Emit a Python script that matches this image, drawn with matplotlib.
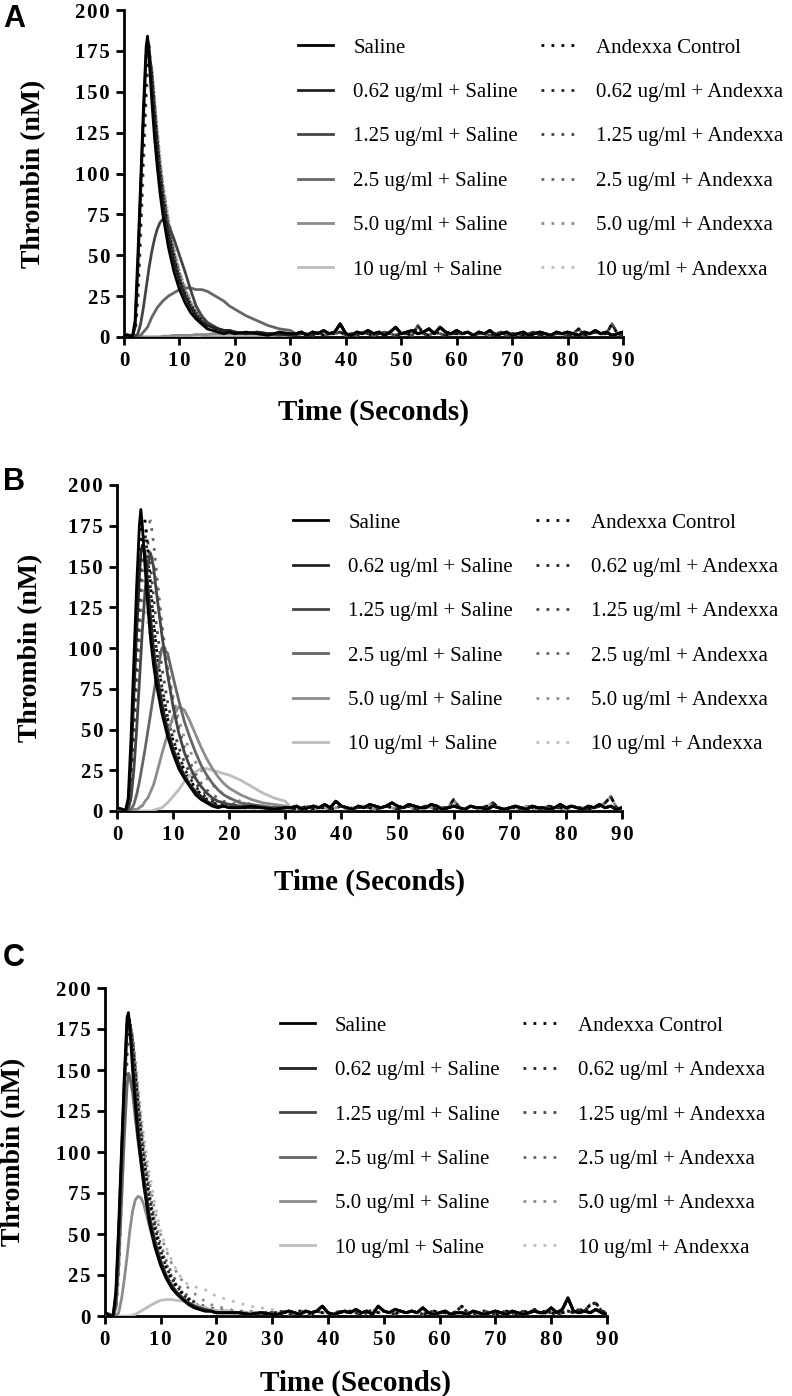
import numpy as np
import matplotlib
matplotlib.use("Agg")
import matplotlib.pyplot as plt
from matplotlib.ticker import FuncFormatter

plt.rcParams['font.family'] = ['Liberation Serif', 'DejaVu Serif']

# sample times (s): dense early part, then one reading per second for the tail
t_early = [0, 1, 1.5, 2, 2.5, 3, 3.5, 4, 4.25, 4.5, 5, 5.5, 6, 6.5, 7, 8, 9, 10,
           11, 12, 13, 14, 15, 16, 17, 18, 19, 20, 22, 24, 26, 28, 30]
t_tail = list(range(31, 91))

labels_saline = ["Saline", "0.62 ug/ml + Saline", "1.25 ug/ml + Saline",
                 "2.5 ug/ml + Saline", "5.0 ug/ml + Saline", "10 ug/ml + Saline"]
labels_andexxa = ["Andexxa Control", "0.62 ug/ml + Andexxa", "1.25 ug/ml + Andexxa",
                  "2.5 ug/ml + Andexxa", "5.0 ug/ml + Andexxa", "10 ug/ml + Andexxa"]
shades = ["#000000", "#222222", "#444444", "#666666", "#8c8c8c", "#bdbdbd"]

# ---------------- panel A ----------------
A_saline = [
    [1, 1, 0, 10, 50, 95, 140, 178, 184, 172, 145, 122, 104, 88, 75, 55, 40, 29, 21, 15, 11, 8, 5, 4, 3, 2, 3, 2, 3, 2, 1, 3, 2],
    [2, 1, 0, 6, 42, 88, 133, 172, 182, 178, 155, 132, 112, 96, 82, 62, 46, 34, 25, 18, 13, 9, 7, 6, 5, 4, 4, 3, 2, 3, 2, 2, 1],
    [1, 1, 0, 0, 2, 8, 18, 30, 36, 42, 52, 60, 66, 70, 72, 69, 60, 50, 40, 29, 19, 13, 9, 7, 5, 4, 4, 3, 2, 3, 2, 1, 2],
    [1, 1, 0, 0, 0, 1, 3, 5, 6, 8, 12, 15, 18, 20, 22, 25, 27, 29, 30, 30, 29, 29, 28, 26, 24, 22, 19, 17, 13, 10, 7, 5, 4],
    [0, 0, 0, 0, 0, 0, 0, 0, 0, 0, 0, 0, 0, 0, 0.5, 0.5, 1, 1, 1, 1, 1.5, 1.5, 1.5, 2, 2, 2, 2, 2, 2, 2, 2, 2, 2],
    [0, 0, 0, 0, 0, 0, 0, 0, 0, 0, 0, 0, 0, 0, 0, 0, 0.5, 0.5, 0.5, 0.5, 0.5, 1, 1, 1, 1, 1, 1, 1, 1, 1, 1, 1, 1],
]
A_andexxa = [
    [1, 1, 0, 5, 35, 80, 125, 165, 175, 178, 160, 138, 118, 100, 86, 64, 48, 35, 26, 19, 14, 10, 7, 5, 4, 3, 3, 2, 2, 2, 2, 1, 2],
    [1, 1, 0, 4, 32, 76, 120, 160, 172, 176, 162, 140, 120, 102, 88, 66, 49, 36, 27, 20, 14, 10, 8, 6, 4, 3, 3, 2, 2, 2, 2, 1, 2],
    [1, 1, 0, 3, 28, 70, 115, 155, 168, 174, 163, 142, 122, 104, 90, 68, 51, 38, 28, 20, 15, 11, 8, 6, 4, 3, 3, 2, 2, 2, 2, 1, 2],
    [1, 1, 0, 3, 25, 66, 110, 150, 165, 172, 164, 144, 124, 106, 92, 70, 52, 39, 29, 21, 15, 11, 8, 6, 5, 4, 3, 3, 2, 2, 2, 1, 2],
    [1, 1, 0, 2, 22, 62, 105, 146, 162, 170, 165, 146, 126, 108, 94, 72, 54, 40, 30, 22, 16, 12, 9, 7, 5, 4, 3, 3, 2, 2, 2, 1, 2],
    [1, 1, 0, 2, 20, 58, 100, 142, 158, 168, 165, 148, 128, 110, 96, 74, 55, 41, 31, 23, 17, 12, 9, 7, 5, 4, 3, 3, 2, 2, 2, 1, 2],
]
A_tail_solid = [2, 3, 1, 3, 2, 4, 2, 3, 8, 2, 1, 3, 2, 4, 2, 3, 1, 3, 6, 2,
                3, 4, 2, 3, 5, 2, 6, 3, 2, 4, 2, 3, 1, 3, 2, 4, 1, 2, 3, 1,
                2, 3, 1, 2, 3, 2, 1, 3, 2, 3, 2, 1, 3, 2, 4, 2, 3, 1, 2, 3]
A_tail_dot = [1, 2, 2, 1, 3, 1, 2, 2, 3, 1, 2, 1, 3, 2, 1, 2, 3, 2, 1, 2,
              2, 1, 7, 2, 1, 3, 2, 1, 2, 2, 2, 3, 1, 2, 2, 1, 2, 3, 1, 2,
              2, 1, 2, 3, 1, 2, 1, 2, 2, 1, 2, 5, 1, 2, 3, 2, 2, 8, 2, 1]

# ---------------- panel B ----------------
B_saline = [
    [2, 1, 0, 8, 45, 92, 138, 176, 185, 176, 150, 125, 105, 90, 78, 60, 46, 35, 26, 20, 15, 10, 7, 5, 3, 2, 3, 2, 2, 3, 2, 1, 2],
    [2, 1, 0, 4, 30, 70, 110, 145, 158, 163, 158, 138, 118, 100, 86, 66, 50, 38, 29, 22, 16, 12, 9, 6, 4, 3, 3, 2, 2, 2, 2, 1, 2],
    [1, 1, 0, 1, 8, 25, 50, 80, 95, 110, 135, 152, 158, 150, 135, 108, 84, 64, 48, 36, 27, 20, 15, 11, 8, 6, 5, 4, 3, 3, 2, 2, 2],
    [1, 1, 0, 0, 1, 4, 10, 18, 23, 28, 38, 49, 60, 71, 82, 100, 97, 82, 68, 55, 45, 36, 28, 22, 17, 13, 10, 8, 5, 4, 3, 2, 2],
    [1, 1, 0, 0, 0, 1, 1, 2, 3, 3, 6, 8, 12, 16, 22, 35, 47, 58, 64, 62, 55, 47, 39, 32, 26, 21, 17, 14, 10, 7, 5, 4, 3],
    [0, 0, 0, 0, 0, 0, 0, 0, 0, 0, 0, 0, 0, 0.5, 1, 2, 5, 9, 13, 18, 22, 24, 26, 26, 25, 24, 23, 22, 19, 15, 11, 8, 6],
]
B_andexxa = [
    [2, 1, 0, 4, 30, 72, 115, 155, 170, 176, 178, 160, 138, 118, 100, 75, 57, 43, 33, 25, 19, 14, 10, 7, 5, 4, 3, 3, 2, 2, 2, 2, 2],
    [2, 1, 0, 3, 25, 62, 105, 145, 160, 168, 170, 155, 135, 116, 100, 76, 58, 44, 34, 26, 20, 15, 11, 8, 6, 5, 4, 3, 3, 2, 2, 2, 2],
    [1, 1, 0, 2, 18, 50, 90, 130, 145, 155, 162, 165, 150, 132, 115, 88, 67, 51, 39, 30, 23, 17, 13, 10, 7, 6, 5, 4, 3, 3, 2, 2, 2],
    [1, 1, 0, 1, 10, 35, 70, 110, 130, 148, 168, 176, 178, 165, 148, 115, 88, 67, 51, 39, 30, 23, 17, 13, 10, 8, 6, 5, 4, 3, 3, 2, 2],
    [1, 1, 0, 1, 8, 30, 62, 100, 118, 135, 150, 158, 160, 152, 140, 110, 88, 70, 56, 45, 37, 30, 25, 20, 16, 13, 10, 8, 6, 4, 3, 2, 2],
    [1, 1, 0, 2, 15, 45, 80, 110, 120, 125, 124, 115, 104, 92, 82, 64, 50, 39, 30, 23, 18, 14, 11, 8, 6, 5, 4, 3, 3, 2, 2, 2, 2],
]
B_tail_solid = [2, 3, 1, 2, 3, 2, 4, 2, 6, 3, 2, 1, 3, 2, 4, 3, 2, 3, 5, 3,
                2, 4, 3, 2, 2, 4, 3, 1, 2, 3, 2, 1, 3, 2, 2, 1, 3, 2, 1, 2,
                3, 2, 1, 3, 2, 2, 1, 2, 4, 2, 3, 2, 1, 3, 2, 4, 2, 3, 1, 2]
B_tail_dot = [2, 1, 2, 3, 1, 2, 2, 1, 2, 3, 1, 2, 2, 3, 2, 1, 2, 3, 2, 1,
              2, 3, 1, 2, 3, 2, 1, 2, 2, 7, 2, 1, 3, 2, 2, 3, 5, 2, 1, 2,
              2, 1, 3, 2, 1, 2, 3, 2, 2, 1, 3, 2, 2, 1, 2, 3, 5, 9, 2, 1]

# ---------------- panel C ----------------
C_saline = [
    [2, 0, 0, 15, 55, 100, 145, 182, 185, 176, 150, 128, 108, 94, 80, 57, 42, 31, 23, 17, 13, 10, 7, 5, 4, 3, 3, 2, 2, 2, 1, 2, 1],
    [2, 0, 0, 12, 50, 96, 142, 178, 183, 178, 155, 132, 112, 97, 83, 60, 44, 33, 24, 18, 14, 10, 8, 6, 4, 3, 3, 2, 2, 2, 1, 2, 1],
    [2, 1, 0, 10, 45, 90, 136, 172, 180, 178, 158, 135, 115, 99, 85, 62, 46, 34, 25, 19, 14, 11, 8, 6, 5, 4, 3, 2, 2, 2, 1, 2, 1],
    [1, 0, 0, 5, 30, 68, 108, 140, 148, 146, 136, 120, 106, 93, 80, 58, 43, 32, 24, 18, 14, 11, 8, 6, 5, 4, 3, 2, 2, 2, 1, 2, 1],
    [1, 0, 0, 0, 2, 10, 22, 36, 44, 52, 64, 71, 73, 72, 68, 55, 42, 32, 24, 18, 14, 11, 8, 6, 5, 4, 3, 2, 2, 2, 1, 2, 1],
    [0, 0, 0, 0, 0, 0, 0, 0, 0, 0, 0.5, 1, 2, 3, 4, 6, 8, 9.5, 10, 10, 9.5, 9, 8, 7, 6, 5, 4, 3, 3, 2, 2, 2, 1],
]
C_andexxa = [
    [2, 0, 0, 8, 40, 88, 135, 172, 182, 180, 165, 145, 125, 108, 94, 70, 52, 39, 29, 22, 17, 13, 10, 7, 5, 4, 3, 3, 2, 2, 2, 2, 2],
    [2, 0, 0, 6, 36, 84, 130, 168, 180, 180, 167, 148, 128, 111, 96, 72, 54, 40, 30, 23, 18, 13, 10, 8, 6, 5, 4, 3, 3, 2, 2, 2, 2],
    [2, 0, 0, 5, 33, 80, 126, 165, 178, 179, 168, 150, 130, 113, 98, 74, 56, 42, 32, 24, 18, 14, 11, 8, 6, 5, 4, 3, 3, 2, 2, 2, 2],
    [1, 0, 0, 4, 30, 76, 122, 162, 176, 178, 170, 152, 133, 116, 101, 77, 58, 44, 34, 26, 20, 15, 12, 9, 7, 6, 5, 4, 3, 3, 2, 2, 2],
    [1, 0, 0, 3, 27, 72, 118, 158, 173, 177, 170, 154, 136, 120, 105, 82, 64, 50, 40, 32, 26, 21, 17, 14, 11, 9, 7, 6, 4, 3, 3, 2, 2],
    [1, 0, 0, 2, 24, 68, 112, 152, 168, 175, 172, 158, 140, 124, 110, 88, 68, 52, 42, 34, 27, 22, 19, 18, 17, 16, 14, 12, 10, 8, 6, 5, 4],
]
C_tail_solid = [1, 2, 3, 2, 1, 3, 2, 3, 6, 2, 1, 2, 3, 2, 4, 2, 3, 1, 6, 3,
                2, 4, 3, 2, 3, 2, 5, 2, 1, 2, 3, 1, 2, 2, 1, 3, 2, 1, 2, 3,
                2, 1, 3, 2, 1, 2, 3, 2, 2, 5, 2, 4, 11, 3, 2, 3, 2, 4, 2, 1]
C_tail_dot = [2, 3, 1, 2, 3, 2, 1, 3, 2, 2, 1, 3, 2, 3, 2, 1, 2, 4, 2, 3,
              2, 1, 3, 2, 3, 2, 1, 2, 3, 2, 2, 1, 3, 6, 2, 1, 2, 3, 2, 1,
              2, 3, 2, 1, 3, 2, 4, 2, 3, 2, 1, 2, 3, 2, 4, 3, 7, 8, 3, 2]

panels = [
    # letter, saline, andexxa, tails, axes box (px), ylabel x, xlabel y, letter y (px)
    ("A", A_saline, A_andexxa, A_tail_solid, A_tail_dot, [124, 10, 623, 337], -0.156, -0.190, 19),
    ("B", B_saline, B_andexxa, B_tail_solid, B_tail_dot, [117, 485, 622, 811], -0.147, -0.178, 482),
    ("C", C_saline, C_andexxa, C_tail_solid, C_tail_dot, [104.7, 988, 607, 1316], -0.157, -0.165, 958),
]

W, H = 792, 1396
fig = plt.figure(figsize=(W / 100, H / 100), dpi=100)

t_all = np.array(t_early + t_tail, dtype=float)
dot_style = (0, (1, 2.6))
# GraphPad-style letter-spaced tick numbers
spaced = FuncFormatter(lambda v, pos: "\u200a".join(str(int(v))))

for letter, sal, andx, tail_s, tail_d, box, ylx, xly, lety in panels:
    x0, y0, x1, y1 = box
    ax = fig.add_axes([x0 / W, 1 - y1 / H, (x1 - x0) / W, (y1 - y0) / H])

    handles_s, handles_d = [], []
    # dotted Andexxa traces underneath, light first
    for i in range(5, -1, -1):
        y = np.array(andx[i] + tail_d, dtype=float)
        ln, = ax.plot(t_all, y, color=shades[i], lw=2.0, linestyle=dot_style,
                      label=labels_andexxa[i], zorder=2)
        handles_d.insert(0, ln)
    for i in range(5, -1, -1):
        y = np.array(sal[i] + tail_s, dtype=float)
        ln, = ax.plot(t_all, y, color=shades[i], lw=2.0, label=labels_saline[i],
                      zorder=3, solid_joinstyle='round')
        handles_s.insert(0, ln)

    ax.set_xlim(0, 90)
    ax.set_ylim(0, 200)
    ax.set_xticks(range(0, 91, 10))
    ax.set_yticks(range(0, 201, 25))
    ax.xaxis.set_major_formatter(spaced)
    ax.yaxis.set_major_formatter(spaced)
    for s in ["top", "right"]:
        ax.spines[s].set_visible(False)
    for s in ["left", "bottom"]:
        ax.spines[s].set_linewidth(2.0)
        ax.spines[s].set_zorder(1)
    ax.tick_params(direction="out", length=6, width=2.0, labelsize=15, pad=4)
    for lab in ax.get_xticklabels() + ax.get_yticklabels():
        lab.set_fontweight("bold")

    ax.set_ylabel("Thrombin (nM)", fontsize=20, fontweight="bold")
    ax.yaxis.set_label_coords(ylx, 0.5)
    ax.set_xlabel("Time (Seconds)", fontsize=21, fontweight="bold")
    ax.xaxis.set_label_coords(0.5, xly)

    ax.legend(handles_s + handles_d, labels_saline + labels_andexxa, ncol=2,
              loc="upper left", bbox_to_anchor=(0.349, 0.914), frameon=False,
              fontsize=15, handlelength=1.68, handletextpad=0.96,
              columnspacing=1.1, labelspacing=1.19, borderpad=0,
              borderaxespad=0)

    fig.text(3 / W, 1 - lety / H, letter, fontsize=22, fontweight="bold",
             family="Liberation Sans", ha="left", va="center")

fig.savefig("out.png", dpi=100)
